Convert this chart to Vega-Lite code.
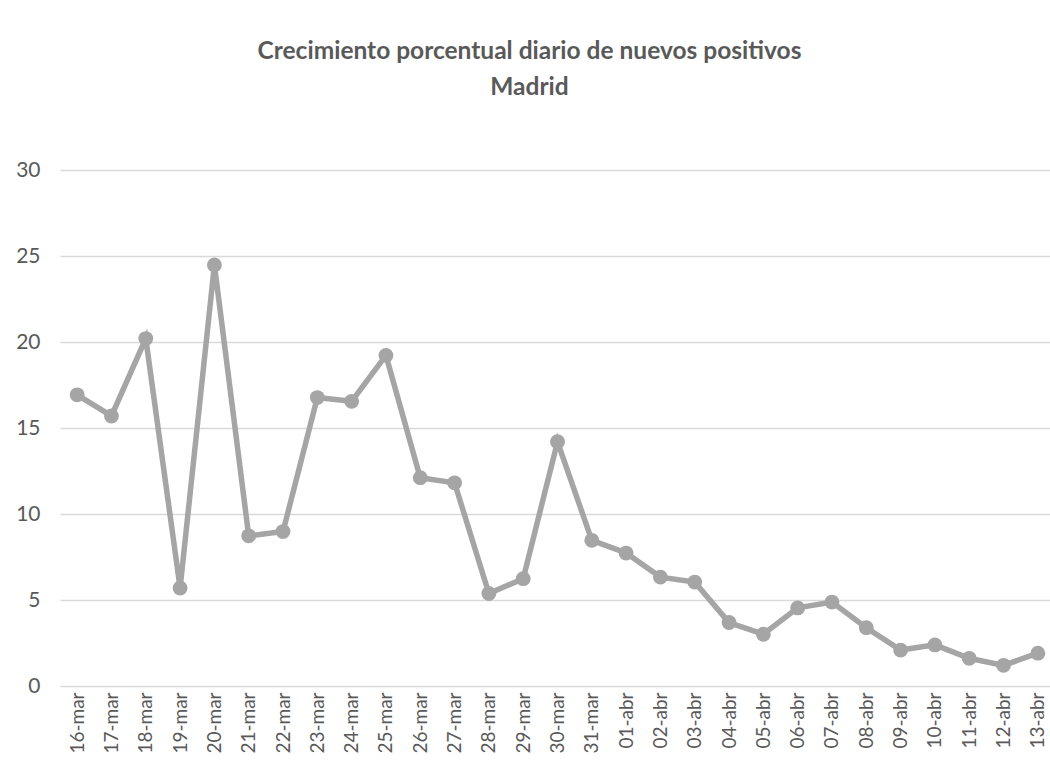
{
  "$schema": "https://vega.github.io/schema/vega-lite/v6.json",
  "autosize": {"type": "none"},
  "padding": {"left": 60, "top": 170, "right": 0, "bottom": 78},
  "width": 995,
  "height": 516,
  "background": "white",
  "title": {
    "text": ["Crecimiento porcentual diario de nuevos positivos", "Madrid"],
    "font": "Lato",
    "fontSize": 24.5,
    "fontWeight": "bold",
    "color": "#595959",
    "anchor": "middle",
    "lineHeight": 36,
    "offset": 59,
    "dx": -28
  },
  "data": {
    "values": [
      {"fecha": "16-mar", "valor": 16.93},
      {"fecha": "17-mar", "valor": 15.70},
      {"fecha": "18-mar", "valor": 20.20},
      {"fecha": "19-mar", "valor": 5.70},
      {"fecha": "20-mar", "valor": 24.48},
      {"fecha": "21-mar", "valor": 8.73},
      {"fecha": "22-mar", "valor": 8.98},
      {"fecha": "23-mar", "valor": 16.77},
      {"fecha": "24-mar", "valor": 16.55},
      {"fecha": "25-mar", "valor": 19.22},
      {"fecha": "26-mar", "valor": 12.11},
      {"fecha": "27-mar", "valor": 11.81},
      {"fecha": "28-mar", "valor": 5.38},
      {"fecha": "29-mar", "valor": 6.24},
      {"fecha": "30-mar", "valor": 14.20},
      {"fecha": "31-mar", "valor": 8.47},
      {"fecha": "01-abr", "valor": 7.73},
      {"fecha": "02-abr", "valor": 6.33},
      {"fecha": "03-abr", "valor": 6.04},
      {"fecha": "04-abr", "valor": 3.69},
      {"fecha": "05-abr", "valor": 3.01},
      {"fecha": "06-abr", "valor": 4.54},
      {"fecha": "07-abr", "valor": 4.88},
      {"fecha": "08-abr", "valor": 3.39},
      {"fecha": "09-abr", "valor": 2.09},
      {"fecha": "10-abr", "valor": 2.39},
      {"fecha": "11-abr", "valor": 1.61},
      {"fecha": "12-abr", "valor": 1.20},
      {"fecha": "13-abr", "valor": 1.91}
    ]
  },
  "encoding": {
    "x": {
      "field": "fecha",
      "type": "ordinal",
      "sort": null,
      "scale": {"type": "point", "padding": 0.5},
      "axis": {
        "title": null,
        "labelAngle": 270,
        "labelFont": "Lato",
        "labelFontSize": 19,
        "labelColor": "#595959",
        "labelPadding": 6,
        "ticks": false,
        "domain": false,
        "grid": false
      }
    },
    "y": {
      "field": "valor",
      "type": "quantitative",
      "scale": {"domain": [0, 30], "nice": false},
      "axis": {
        "title": null,
        "values": [0, 5, 10, 15, 20, 25, 30],
        "labelFont": "Lato",
        "labelFontSize": 21,
        "labelColor": "#595959",
        "labelPadding": 20,
        "ticks": false,
        "domain": false,
        "grid": true,
        "gridColor": "#D9D9D9",
        "gridWidth": 1.3
      }
    }
  },
  "layer": [
    {"mark": {"type": "line", "color": "#A5A5A5", "strokeWidth": 5.5}},
    {"mark": {"type": "point", "filled": true, "shape": "circle", "color": "#A5A5A5", "opacity": 1, "size": 220}}
  ],
  "config": {"view": {"stroke": null}}
}
